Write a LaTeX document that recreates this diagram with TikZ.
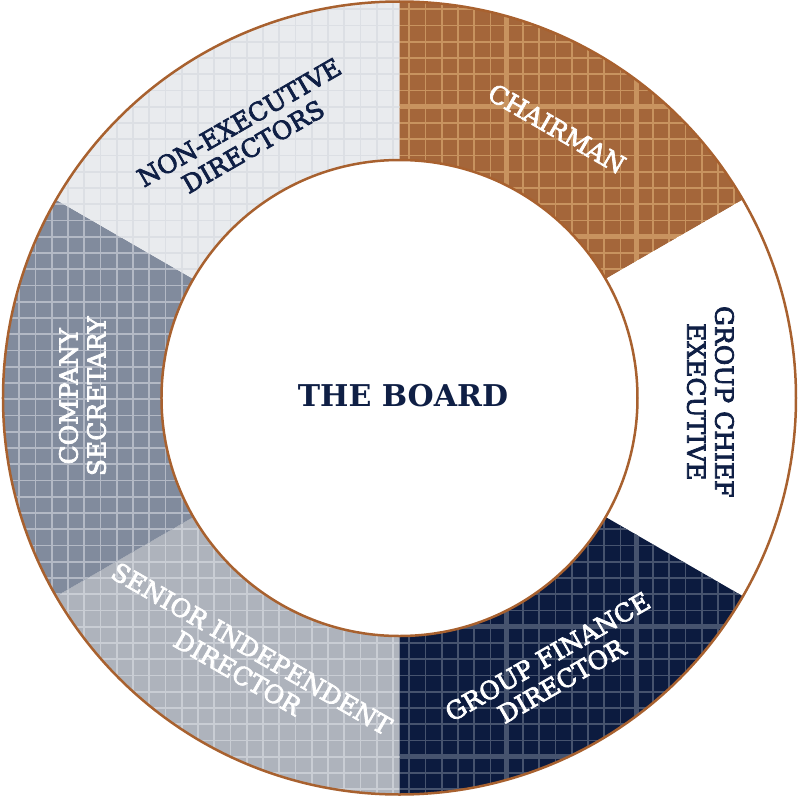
\documentclass[tikz,border=0pt]{standalone}
\usepackage{fontspec}
\setmainfont{DejaVu Serif}
\newfontfamily\rolefont[FakeBold=3]{DejaVu Serif}

\definecolor{chairfill}{HTML}{A4663A}
\definecolor{chairgrid}{HTML}{C8935F}
\definecolor{navyfill}{HTML}{0C1B3F}
\definecolor{navygrid}{HTML}{46536E}
\definecolor{seniorfill}{HTML}{AEB3BC}
\definecolor{seniorgrid}{HTML}{C9CDD4}
\definecolor{secfill}{HTML}{818B9D}
\definecolor{secgrid}{HTML}{B3B9C5}
\definecolor{nonexfill}{HTML}{E9EBEE}
\definecolor{nonexgrid}{HTML}{DCDFE4}
\definecolor{ringline}{HTML}{A8612F}
\definecolor{boardnavy}{HTML}{0F1F45}

\newcommand{\ringin}{238}
\newcommand{\ringout}{396.5}

\tikzset{
  thinline/.style={line width=1.8pt},
  role/.style={font=\rolefont\fontsize{25}{28}\selectfont, align=center, inner sep=0pt},
  boardtitle/.style={font=\fontsize{30}{34}\selectfont\bfseries, text=boardnavy, inner sep=0pt}
}

\begin{document}
\begin{tikzpicture}[x=1pt,y=1pt]
		\useasboundingbox (-399.5,-398) rectangle (401.5,398);

		% Ring segments
		\foreach \a/\fc/\gc/\tw in {30/chairfill/chairgrid/4.5, -30/white/white/1.8, -90/navyfill/navygrid/4.5,
			-150/seniorfill/seniorgrid/1.8, 150/secfill/secgrid/1.8, 90/nonexfill/nonexgrid/1.8} {
			\begin{scope}
				\clip (\a:\ringin) -- (\a:\ringout) arc[start angle=\a, delta angle=60, radius=\ringout]
					-- ({\a+60}:\ringin) arc[start angle={\a+60}, delta angle=-60, radius=\ringin] -- cycle;
				\fill[\fc] (-400,-400) rectangle (400,400);
				\foreach \k in {-25,...,25} {
					\draw[thinline, \gc] ({9.7+16.25*\k},-400) -- ++(0,800);
					\draw[thinline, \gc] (-400,{-1.2+16.25*\k}) -- ++(800,0);
				}
				\foreach \k in {-3,...,3} {
					\draw[line width=\tw pt, \gc] ({107.2+130*\k},-400) -- ++(0,800);
					\draw[line width=\tw pt, \gc] (-400,{31.3+130*\k}) -- ++(800,0);
				}
			\end{scope}
		}

		% Ring outline
		\draw[ringline, line width=2.5pt] (0,0) circle[radius=\ringout] (0,0) circle[radius=\ringin];

		% Define nodes
		\node[boardtitle] (board) at (3.5,2) {THE BOARD};
		\node[role, text=white, rotate=-30] (chair) at (59.7:312) {CHAIRMAN};
		\node[role, text=boardnavy, rotate=-90] (ceo) at (-0.7:311) {GROUP CHIEF\\EXECUTIVE};
		\node[role, text=white, rotate=30] (cfo) at (-60.2:312) {GROUP FINANCE\\DIRECTOR};
		\node[role, text=white, rotate=-30] (sid) at (-120.5:305) {SENIOR INDEPENDENT\\DIRECTOR};
		\node[role, text=white, rotate=90] (cosec) at (179.7:317) {COMPANY\\SECRETARY};
		\node[role, text=boardnavy, rotate=30] (ned) at (120.2:305) {NON-EXECUTIVE\\DIRECTORS};
	\end{tikzpicture}
\end{document}
